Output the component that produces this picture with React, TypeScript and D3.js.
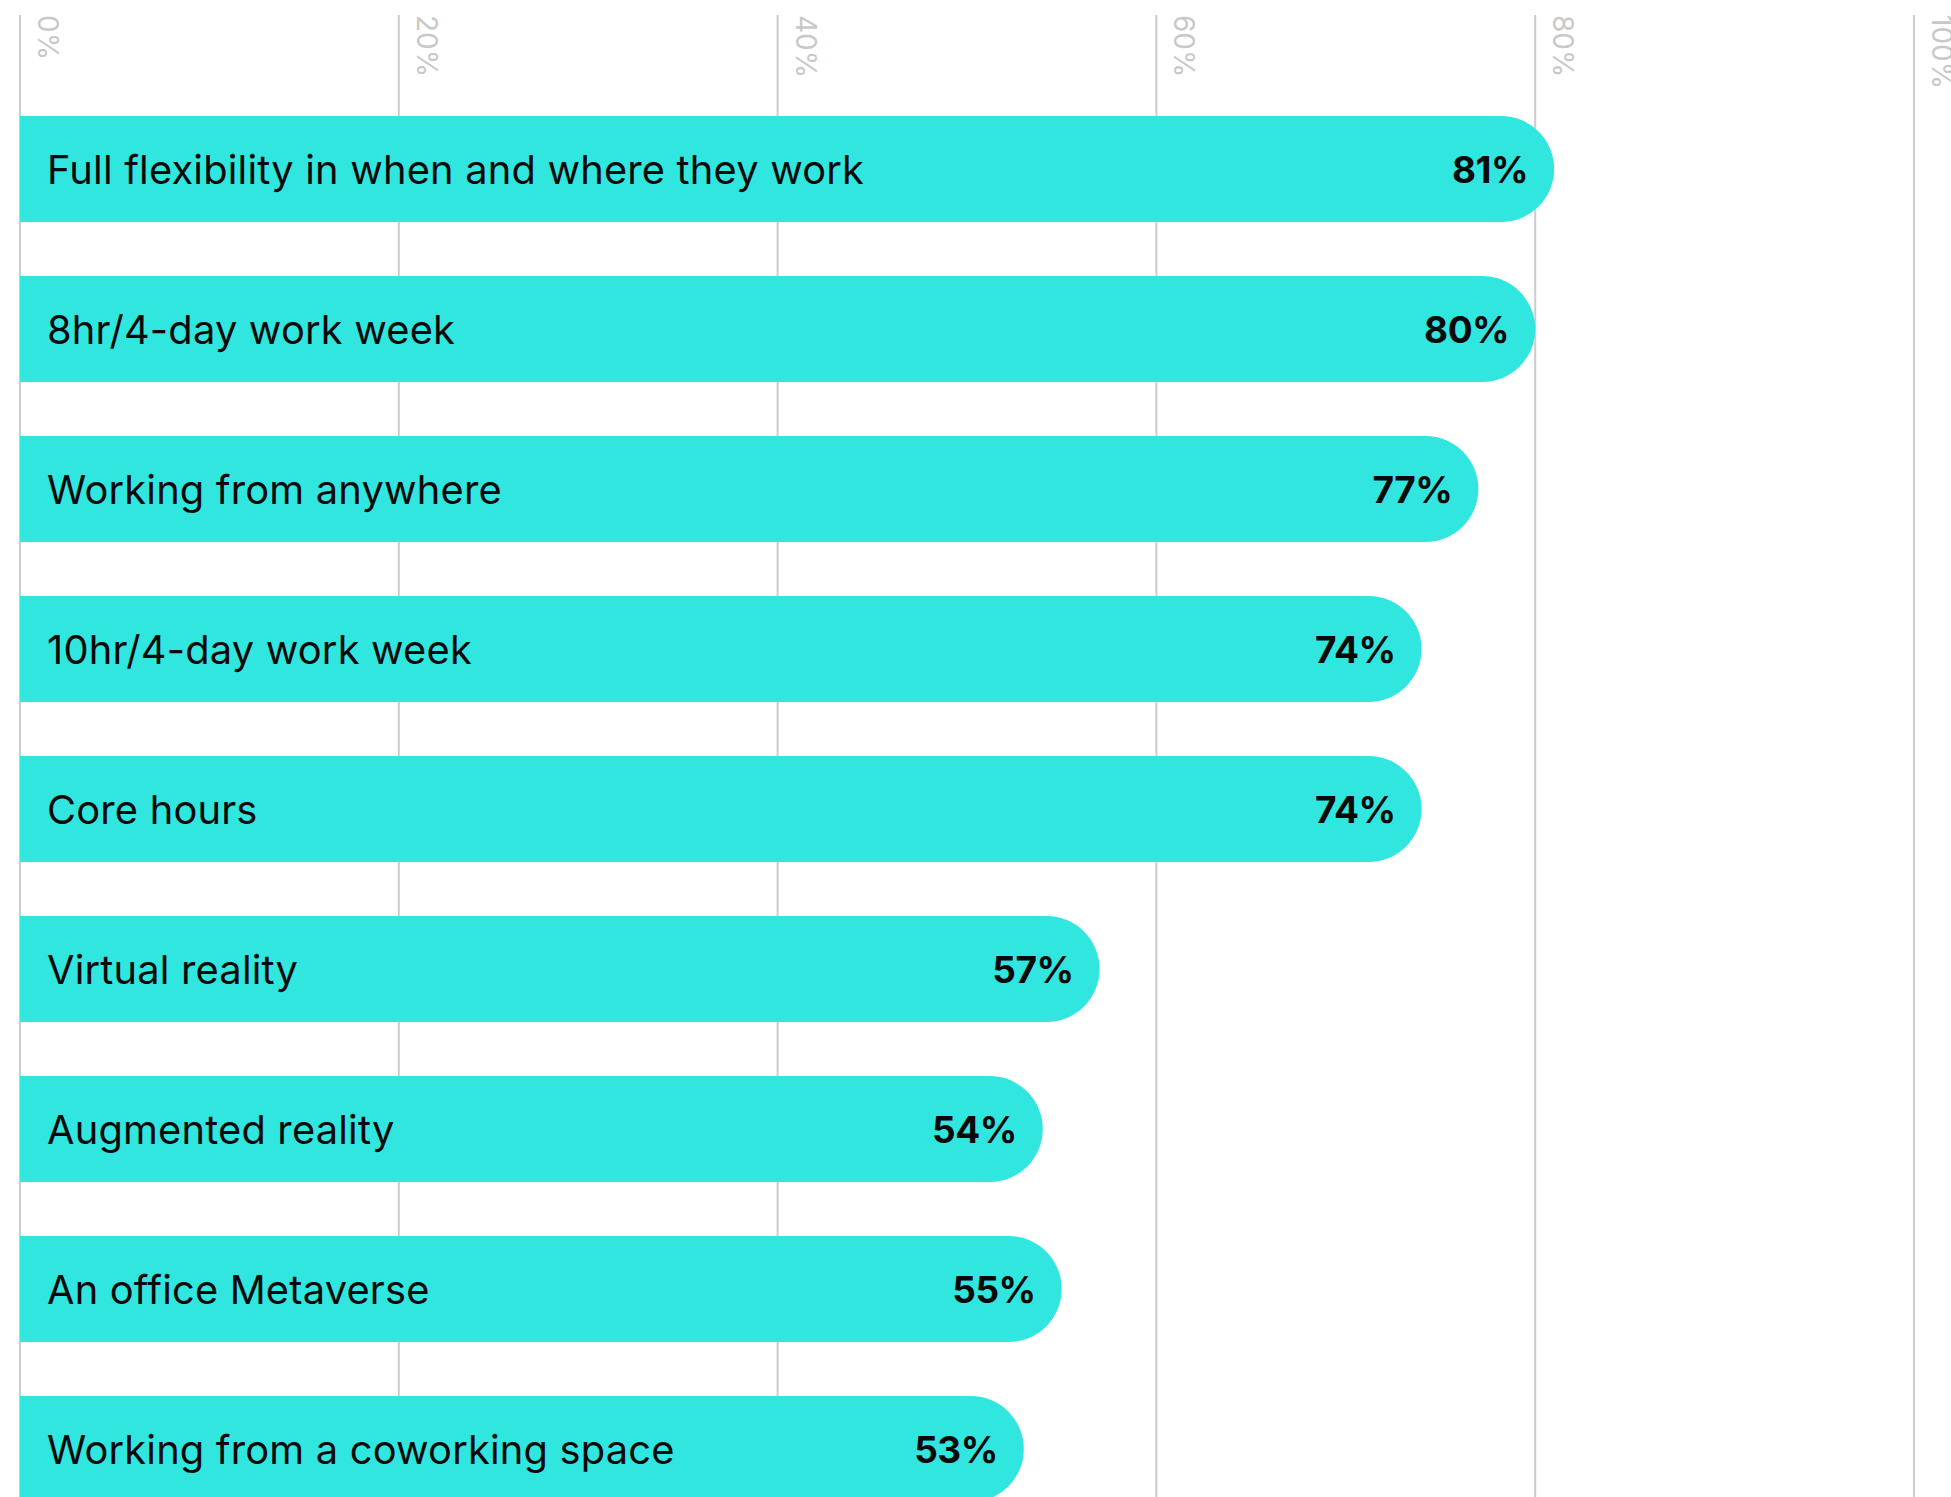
import { scaleLinear, scaleBand, path as d3path } from 'd3'

const CATEGORIES = [
  'Full flexibility in when and where they work',
  '8hr/4-day work week',
  'Working from anywhere',
  '10hr/4-day work week',
  'Core hours',
  'Virtual reality',
  'Augmented reality',
  'An office Metaverse',
  'Working from a coworking space',
]

const VALUES = [81, 80, 77, 74, 74, 57, 54, 55, 53]

const TICKS = [0, 20, 40, 60, 80, 100]

function barPath(x0: number, x1: number, y: number, h: number) {
  const r = h / 2
  const p = d3path()
  p.moveTo(x0, y)
  p.lineTo(x1 - r, y)
  p.arc(x1 - r, y + r, r, -Math.PI / 2, Math.PI / 2)
  p.lineTo(x0, y + h)
  p.closePath()
  return p.toString()
}

export default function App() {
  const width = 1951
  const height = 1497

  const xScale = scaleLinear().domain([0, 100]).range([20, 1914])

  const yScale = scaleBand()
    .domain(CATEGORIES)
    .range([116, 1502])
    .paddingInner(0.3375)
    .paddingOuter(0)

  const bh = yScale.bandwidth()

  return (
    <svg
      width={width}
      height={height}
      style={{ position: 'absolute', left: 0, top: 0, background: '#fff' }}
      fontFamily='Inter, sans-serif'
    >
      {/* grid */}
      {TICKS.map((t) => (
        <g key={t} transform={`translate(${xScale(t)}, 0)`}>
          <line y1={15} y2={height} stroke='#cccccc' strokeWidth={2} />
          <text
            transform='translate(18, 15) rotate(90)'
            fontSize={28}
            fill='#c8c8c8'
          >
            {t}%
          </text>
        </g>
      ))}

      {/* bars */}
      {CATEGORIES.map((c, i) => {
        const y = yScale(c)!
        const x1 = xScale(VALUES[i])
        return (
          <g key={c}>
            <path d={barPath(xScale(0), x1, y, bh)} fill='#30e6df' />
            <text
              x={47}
              y={y + bh / 2}
              dy='0.37em'
              fontSize={39.8}
              letterSpacing={0.2}
              fill='#0a0a0a'
            >
              {c}
            </text>
            <text
              x={x1 - 26}
              y={y + bh / 2}
              dy='0.37em'
              fontSize={37}
              fontWeight={700}
              letterSpacing={-0.5}
              textAnchor='end'
              fill='#0a0a0a'
            >
              {VALUES[i]}%
            </text>
          </g>
        )
      })}
    </svg>
  )
}
